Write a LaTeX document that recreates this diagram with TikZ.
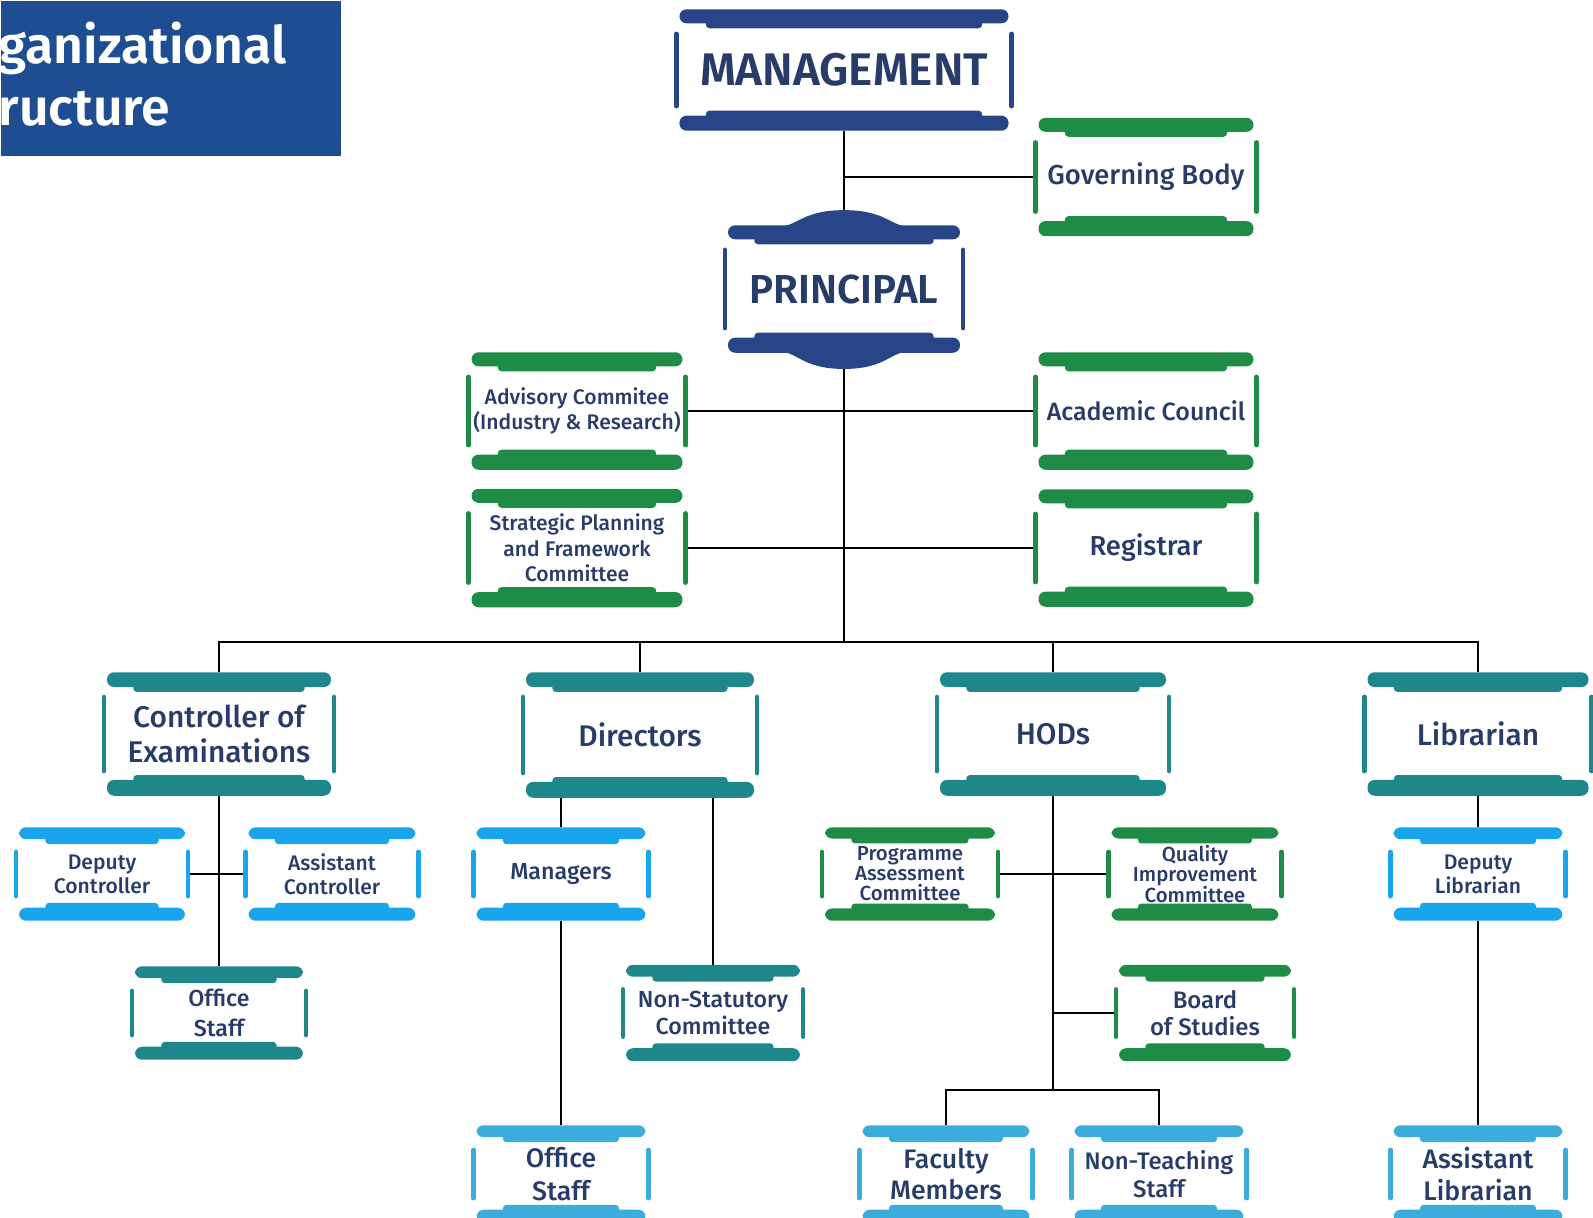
\documentclass[tikz,border=0pt]{standalone}
\usepackage{fontspec}
\setmainfont{Fira Sans}[UprightFont=* Medium, BoldFont=* SemiBold]

\definecolor{inkblue}{RGB}{40,60,105}
\definecolor{chiefblue}{RGB}{40,70,135}
\definecolor{bannerblue}{RGB}{30,78,145}
\definecolor{boardgreen}{RGB}{30,140,70}
\definecolor{deptteal}{RGB}{30,135,140}
\definecolor{skyblue}{RGB}{25,165,235}
\definecolor{staffblue}{RGB}{60,172,218}

\tikzset{
  unit/.style 2 args={rectangle, inner sep=0pt, align=center, text=inkblue,
    minimum width=#1, minimum height=#2},
  fsz/.style 2 args={font=\fontsize{#1}{#2}\selectfont},
  link/.style={line width=0.8pt, black},
}

% bars on top and bottom (#3 = bar thickness), short strokes at the sides
\newcommand{\orgframe}[3]{%
  \fill[#2, rounded corners=2pt] ([xshift=1.5pt]#1.north west) rectangle ([xshift=-1.5pt,yshift=-#3]#1.north east);
  \fill[#2, rounded corners=1pt] ([xshift=9pt,yshift=-2pt]#1.north west) rectangle ([xshift=-9pt,yshift=-#3-1.4pt]#1.north east);
  \fill[#2, rounded corners=2pt] ([xshift=1.5pt]#1.south west) rectangle ([xshift=-1.5pt,yshift=#3+0.3pt]#1.south east);
  \fill[#2, rounded corners=1pt] ([xshift=9pt,yshift=2pt]#1.south west) rectangle ([xshift=-9pt,yshift=#3+1.7pt]#1.south east);
  \draw[#2, line width=1.3pt, line cap=round] ([xshift=0.6pt,yshift=-7pt]#1.north west) -- ([xshift=0.6pt,yshift=7pt]#1.south west);
  \draw[#2, line width=1.3pt, line cap=round] ([xshift=-0.6pt,yshift=-7pt]#1.north east) -- ([xshift=-0.6pt,yshift=7pt]#1.south east);
}

\begin{document}
\lineskiplimit=-5pt\relax
\begin{tikzpicture}[x=0.01cm, y=-0.01cm]
  \useasboundingbox (0,0) rectangle (1593,1217);

  % banner
  \node[fill=bannerblue, anchor=north west, inner sep=0pt, minimum width=3.4cm, minimum height=1.55cm] (banner) at (0,0) {};
  \node[anchor=base west, inner sep=0pt, text=white, font=\fontsize{14.7}{17}\selectfont\bfseries] (heading1) at (-2,63) {ganizational};
  \node[anchor=base west, inner sep=0pt, text=white, font=\fontsize{14.7}{17}\selectfont\bfseries] (heading2) at (-2,125) {ructure};

  % top
  \node[unit={3.38cm}{1.2cm}, font=\fontsize{13}{15}\selectfont\bfseries] (mgmt) at (844,70) {MANAGEMENT};
  \node[unit={2.24cm}{1.17cm}, fsz={7.8}{9}] (gov) at (1146,177) {Governing Body};
  \node[unit={2.41cm}{1.26cm}, font=\fontsize{11.5}{13}\selectfont\bfseries] (princ) at (844,289) {PRINCIPAL};

  \node[unit={2.2cm}{1.16cm}, fsz={6}{7.2}] (adv) at (577,411) {Advisory Commitee\\(Industry \& Research)};
  \node[unit={2.24cm}{1.16cm}, fsz={7.1}{9}] (acad) at (1146,411) {Academic Council};
  \node[unit={2.2cm}{1.17cm}, fsz={6}{7.2}] (strat) at (577,548) {Strategic Planning\\and Framework\\Committee};
  \node[unit={2.24cm}{1.16cm}, fsz={7.8}{9}] (reg) at (1146,548) {Registrar};

  % second level
  \node[unit={2.33cm}{1.22cm}, fsz={8.5}{10.1}] (coe) at (219,734) {Controller of\\Examinations};
  \node[unit={2.37cm}{1.24cm}, fsz={8.5}{10.1}] (dir) at (640,735) {Directors};
  \node[unit={2.35cm}{1.22cm}, fsz={8.5}{10.1}] (hod) at (1053,734) {HODs};
  \node[unit={2.30cm}{1.22cm}, fsz={8.5}{10.1}] (lib) at (1478,734) {Librarian};

  % under controller
  \node[unit={1.75cm}{0.92cm}, fsz={6}{6.9}] (depc) at (102,874) {Deputy\\Controller};
  \node[unit={1.76cm}{0.92cm}, fsz={6}{6.9}] (asc) at (332,874) {Assistant\\Controller};
  \node[unit={1.77cm}{0.92cm}, fsz={6.6}{8.5}] (ofs1) at (219,1013) {Office\\Staff};

  % under directors
  \node[unit={1.78cm}{0.92cm}, fsz={6.6}{8}] (mgr) at (561,874) {Managers};
  \node[unit={1.83cm}{0.95cm}, fsz={6.6}{7.5}] (nsc) at (713,1013) {Non-Statutory\\Committee};
  \node[unit={1.78cm}{0.96cm}, fsz={7.6}{9.2}] (ofs2) at (561,1174) {Office\\Staff};

  % under HODs
  \node[unit={1.79cm}{0.92cm}, fsz={5.8}{5.7}] (pac) at (910,874) {Programme\\Assessment\\Committee};
  \node[unit={1.76cm}{0.92cm}, fsz={5.8}{5.7}] (qic) at (1195,874) {Quality\\Improvement\\Committee};
  \node[unit={1.81cm}{0.95cm}, fsz={6.8}{7.8}] (bos) at (1205,1013) {Board\\of Studies};
  \node[unit={1.76cm}{0.96cm}, fsz={7.6}{8.7}] (fac) at (946,1174) {Faculty\\Members};
  \node[unit={1.78cm}{0.96cm}, fsz={6.8}{7.8}] (nts) at (1159,1174) {Non-Teaching\\Staff};

  % under librarian
  \node[unit={1.78cm}{0.92cm}, fsz={6}{6.9}] (dlib) at (1478,874) {Deputy\\Librarian};
  \node[unit={1.78cm}{0.96cm}, fsz={7.6}{9.2}] (alib) at (1478,1174) {Assistant\\Librarian};

  \coordinate (bus) at (844,642);
  \coordinate (fork) at (1053,1090);

  % lines
  \draw[link] (mgmt.south) -- (princ.north);
  \draw[link] (mgmt.south |- gov.west) -- (gov.west);
  \draw[link] (princ.south) -- (bus);
  \draw[link] (adv.east) -- (acad.west);
  \draw[link] (strat.east) -- (reg.west);
  \draw[link] (coe.north) -- (coe.north |- bus) -- (lib.north |- bus) -- (lib.north);
  \draw[link] (dir.north) -- (dir.north |- bus);
  \draw[link] (hod.north) -- (hod.north |- bus);

  \draw[link] (coe.south) -- (ofs1.north);
  \draw[link] (depc.east) -- (asc.west);

  \draw[link] (mgr.north) -- (mgr.north |- dir.south);
  \draw[link] (nsc.north) -- (nsc.north |- dir.south);
  \draw[link] (mgr.south) -- (ofs2.north);

  \draw[link] (hod.south) -- (fork);
  \draw[link] (pac.east) -- (qic.west);
  \draw[link] (bos.west) -- (bos.west -| hod.south);
  \draw[link] (fac.north) |- (fork) -| (nts.north);

  \draw[link] (lib.south) -- (dlib.north);
  \draw[link] (dlib.south) -- (alib.north);

  % frames
  \foreach \n/\c/\t in {mgmt/chiefblue/4pt, princ/chiefblue/4pt, gov/boardgreen/4pt, adv/boardgreen/4pt,
      acad/boardgreen/4pt, strat/boardgreen/4pt, reg/boardgreen/4pt, coe/deptteal/4.2pt, dir/deptteal/4.2pt,
      hod/deptteal/4.2pt, lib/deptteal/4.2pt, depc/skyblue/3.4pt, asc/skyblue/3.4pt, ofs1/deptteal/3.4pt,
      mgr/skyblue/3.4pt, nsc/deptteal/3.4pt, ofs2/staffblue/3.4pt, pac/boardgreen/3.2pt, qic/boardgreen/3.2pt,
      bos/boardgreen/3.4pt, fac/staffblue/3.4pt, nts/staffblue/3.4pt, dlib/skyblue/3.4pt, alib/staffblue/3.4pt}
    {\orgframe{\n}{\c}{\t}}

  % domes on the principal box
  \fill[chiefblue] ([xshift=-19pt,yshift=-0.5pt]princ.north) .. controls ([xshift=-13pt,yshift=-0.3pt]princ.north) and ([xshift=-12pt,yshift=4.3pt]princ.north) .. ([yshift=4.3pt]princ.north)
    .. controls ([xshift=12pt,yshift=4.3pt]princ.north) and ([xshift=13pt,yshift=-0.3pt]princ.north) .. ([xshift=19pt,yshift=-0.5pt]princ.north) -- cycle;
  \fill[chiefblue] ([xshift=-19pt,yshift=0.5pt]princ.south) .. controls ([xshift=-13pt,yshift=0.3pt]princ.south) and ([xshift=-12pt,yshift=-4.6pt]princ.south) .. ([yshift=-4.6pt]princ.south)
    .. controls ([xshift=12pt,yshift=-4.6pt]princ.south) and ([xshift=13pt,yshift=0.3pt]princ.south) .. ([xshift=19pt,yshift=0.5pt]princ.south) -- cycle;
\end{tikzpicture}
\end{document}
